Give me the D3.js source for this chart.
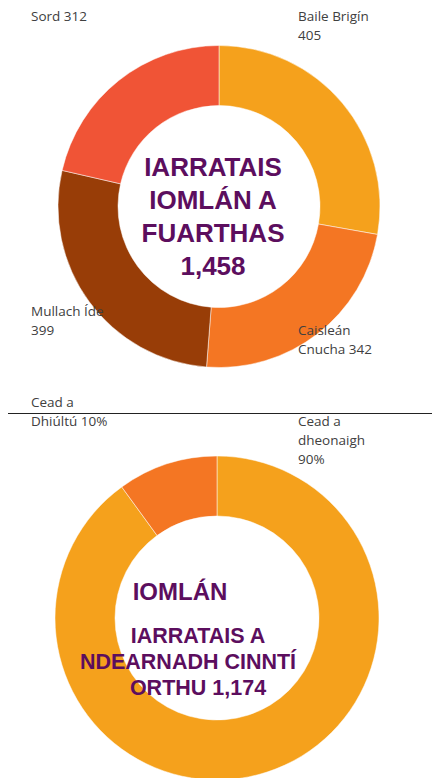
<!DOCTYPE html>
<html>
<head>
<meta charset="utf-8">
<script src="https://cdn.jsdelivr.net/npm/d3@7"></script>
<style>
  body { margin: 0; background: #fff; }
  svg { display: block; }
</style>
</head>
<body>
<script>
// chart 1 - applications received per area
const areas = ["Baile Brigín", "Caisleán Cnucha", "Mullach Íde", "Sord"];
const received = [405, 342, 399, 312];
const areaLabels = [["Baile Brigín", "405"], ["Caisleán", "Cnucha 342"], ["Mullach Íde", "399"], ["Sord 312"]];
const areaColors = ["#F5A11C", "#F47623", "#983D07", "#F05436"];
const centre1 = ["IARRATAIS", "IOMLÁN A", "FUARTHAS", "1,458"];

// chart 2 - decisions
const decisions = ["Cead a dheonaigh", "Cead a Dhiúltú"];
const decisionPct = [90, 10];
const decisionLabels = [["Cead a", "dheonaigh", "90%"], ["Cead a", "Dhiúltú 10%"]];
const decisionColors = ["#F5A11C", "#F47623"];
const centre2a = ["IOMLÁN"];
const centre2b = ["IARRATAIS A", "NDEARNADH CINNTÍ", "ORTHU 1,174"];

const W = 432, H = 778;
const purple = "#5C0E5E";

const svg = d3.select("body").append("svg")
  .attr("width", W)
  .attr("height", H);

const pie = d3.pie().sort(null).value(d => d);

function donut(values, colors, cx, cy, rOut, rIn) {
  const arc = d3.arc().innerRadius(rIn).outerRadius(rOut);
  const g = svg.append("g").attr("transform", "translate(" + cx + "," + cy + ")");
  g.selectAll("path")
    .data(pie(values))
    .enter()
    .append("path")
    .attr("d", arc)
    .attr("fill", (d, i) => colors[i])
    .attr("stroke", "#fff")
    .attr("stroke-width", 0.5);
  return g;
}

function label(lines, x, y) {
  const t = svg.append("text")
    .attr("x", x)
    .attr("y", y)
    .style("font-family", "'Open Sans', sans-serif")
    .style("font-size", "13.5px")
    .attr("fill", "#404040");
  t.selectAll("tspan")
    .data(lines)
    .enter()
    .append("tspan")
    .attr("x", x)
    .attr("dy", (d, i) => i === 0 ? 0 : 19)
    .text(d => d);
}

// xs: centre x for each line
function centreText(lines, xs, y, size, lh) {
  svg.append("g").selectAll("text")
    .data(lines)
    .enter()
    .append("text")
    .attr("x", (d, i) => xs[i])
    .attr("y", (d, i) => y + i * lh)
    .attr("text-anchor", "middle")
    .style("font-family", "'Liberation Sans', Arial, sans-serif")
    .style("font-weight", "bold")
    .style("font-size", size + "px")
    .attr("fill", purple)
    .text(d => d);
}

// first donut
donut(received, areaColors, 219, 206.5, 161, 101);
centreText(centre1, [213, 213, 213, 213], 176, 26, 33);

label(areaLabels[0], 298, 21);
label(areaLabels[1], 298, 335);
label(areaLabels[2], 31, 316);
label(areaLabels[3], 31, 21);

// separator line
svg.append("line")
  .attr("x1", 8).attr("x2", W)
  .attr("y1", 413.5).attr("y2", 413.5)
  .attr("stroke", "#222")
  .attr("stroke-width", 1);

// second donut
donut(decisionPct, decisionColors, 217, 618, 162, 102);
centreText(centre2a, [180], 600, 24, 0);
centreText(centre2b, [198, 188, 198], 643, 21.5, 26);

label(decisionLabels[0], 298, 426);
label(decisionLabels[1], 31, 407);
</script>
</body>
</html>
